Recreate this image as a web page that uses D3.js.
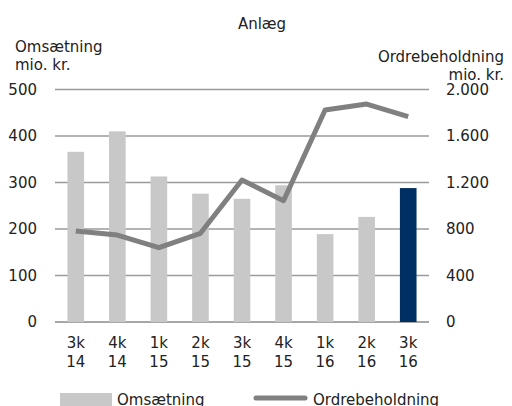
<!DOCTYPE html>
<html>
<head>
<meta charset="utf-8">
<script src="https://cdn.jsdelivr.net/npm/d3@7"></script>
<style>
  body { margin: 0; background: #fff; }
  svg { display: block; font-family: "DejaVu Sans", Verdana, sans-serif; }
</style>
</head>
<body>
<script>
// Data
const quarters = [['3k', '14'], ['4k', '14'], ['1k', '15'], ['2k', '15'], ['3k', '15'],
                  ['4k', '15'], ['1k', '16'], ['2k', '16'], ['3k', '16']];
const omsaetning = [366, 410, 313, 276, 265, 294, 189, 226, 288];
const ordrebeholdning = [783, 748, 639, 763, 1221, 1043, 1824, 1875, 1766];
const leftTicks = [0, 100, 200, 300, 400, 500];
const rightTicks = [0, 400, 800, 1200, 1600, 2000];

const width = 512, height = 406;
const margin = {top: 89.5, right: 83, bottom: 84, left: 55};
const fmt = d3.formatLocale({decimal: ',', thousands: '.', grouping: [3], currency: ['', '']}).format(',d');

const svg = d3.select('body').append('svg')
    .attr('width', width)
    .attr('height', height)
    .style('font-size', '15px');

const x = d3.scaleBand()
    .domain(d3.range(quarters.length))
    .range([margin.left, width - margin.right])
    .paddingInner(0.6)
    .paddingOuter(0.3);
const yL = d3.scaleLinear().domain([0, 500]).range([height - margin.bottom, margin.top]);
const yR = d3.scaleLinear().domain([0, 2000]).range([height - margin.bottom, margin.top]);

// grid lines
svg.append('g')
  .selectAll('line')
  .data(leftTicks)
  .join('line')
    .attr('x1', margin.left)
    .attr('x2', width - margin.right)
    .attr('y1', d => yL(d))
    .attr('y2', d => yL(d))
    .attr('stroke', d => d === 0 ? '#8a8a8a' : '#9a9a9a')
    .attr('stroke-width', 1.5);

// left axis labels
svg.append('g')
  .selectAll('text')
  .data(leftTicks)
  .join('text')
    .attr('x', 37)
    .attr('y', d => yL(d))
    .attr('dy', '0.35em')
    .attr('text-anchor', 'end')
    .attr('fill', '#222')
    .text(d => fmt(d));

// right axis labels
svg.append('g')
  .selectAll('text')
  .data(rightTicks)
  .join('text')
    .attr('x', 446)
    .attr('y', d => yR(d))
    .attr('dy', '0.35em')
    .attr('fill', '#222')
    .text(d => fmt(d));

// bars
svg.append('g')
  .selectAll('rect')
  .data(omsaetning)
  .join('rect')
    .attr('x', (d, i) => x(i))
    .attr('width', x.bandwidth())
    .attr('y', d => yL(d))
    .attr('height', d => yL(0) - yL(d))
    .attr('fill', (d, i) => i === omsaetning.length - 1 ? '#003063' : '#c8c8c8');

// line
const line = d3.line()
    .x((d, i) => x(i) + x.bandwidth() / 2)
    .y(d => yR(d));
svg.append('path')
    .datum(ordrebeholdning)
    .attr('d', line)
    .attr('fill', 'none')
    .attr('stroke', '#808080')
    .attr('stroke-width', 5)
    .attr('stroke-linejoin', 'round');

// x labels
const xl = svg.append('g')
  .selectAll('text')
  .data(quarters)
  .join('text')
    .attr('text-anchor', 'middle')
    .attr('fill', '#222')
    .attr('transform', (d, i) => `translate(${x(i) + x.bandwidth() / 2},0)`);
xl.append('tspan').attr('x', 0).attr('y', 348).text(d => d[0]);
xl.append('tspan').attr('x', 0).attr('y', 367).text(d => d[1]);

// titles
svg.append('text').attr('x', 262).attr('y', 29).attr('text-anchor', 'middle')
    .attr('fill', '#222').text('Anlæg');
svg.append('text').attr('x', 15).attr('y', 52).attr('fill', '#222').text('Omsætning');
svg.append('text').attr('x', 15).attr('y', 70).attr('fill', '#222').text('mio. kr.');
svg.append('text').attr('x', 504).attr('y', 62).attr('text-anchor', 'end')
    .attr('fill', '#222').text('Ordrebeholdning');
svg.append('text').attr('x', 504).attr('y', 80).attr('text-anchor', 'end')
    .attr('fill', '#222').text('mio. kr.');

// legend
const lg = svg.append('g');
lg.append('rect').attr('x', 60).attr('y', 393).attr('width', 52).attr('height', 14).attr('fill', '#c8c8c8');
lg.append('text').attr('x', 117).attr('y', 405).attr('fill', '#222').text('Omsætning');
lg.append('line').attr('x1', 256).attr('x2', 305).attr('y1', 398).attr('y2', 398)
    .attr('stroke', '#808080').attr('stroke-width', 5).attr('stroke-linecap', 'round');
lg.append('text').attr('x', 313).attr('y', 405).attr('fill', '#222').text('Ordrebeholdning');
</script>
</body>
</html>
